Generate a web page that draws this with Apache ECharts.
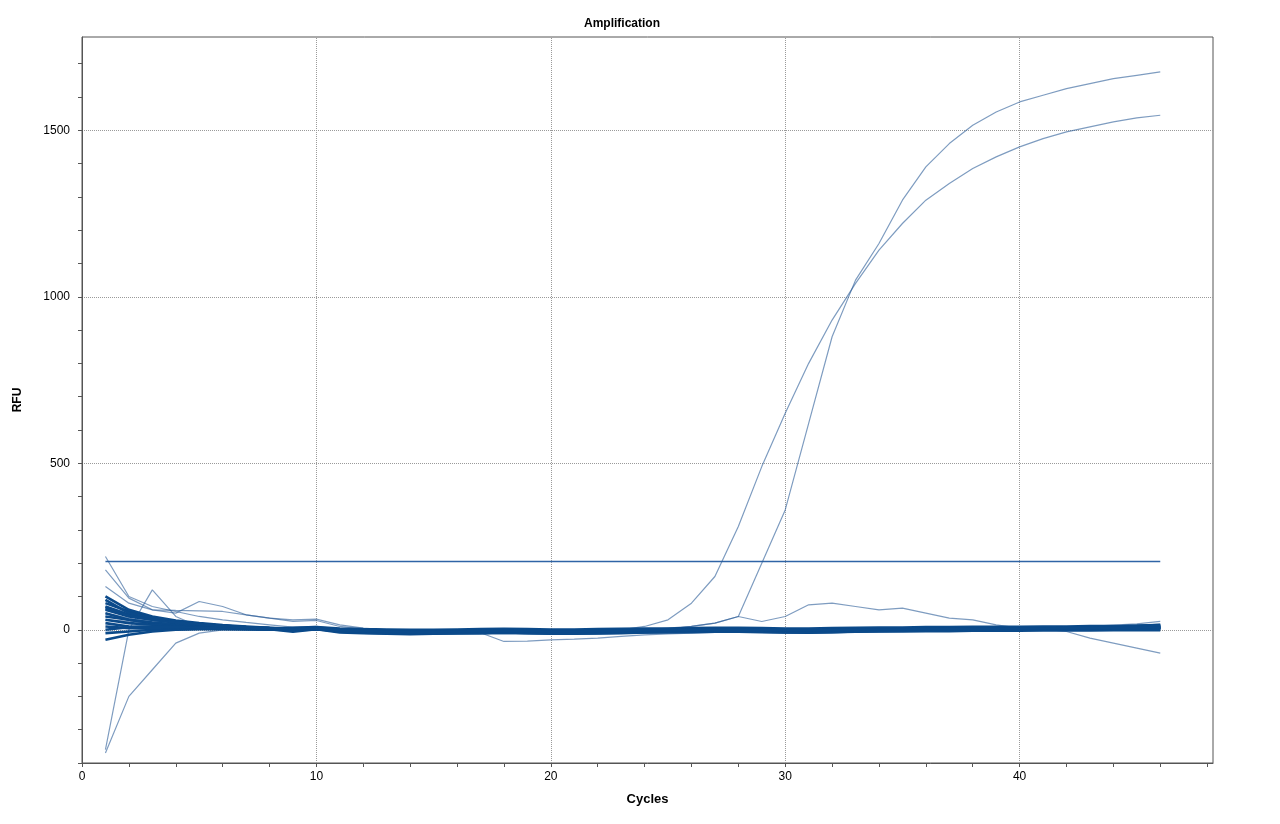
<!DOCTYPE html>
<html><head><meta charset="utf-8">
<script src="https://cdn.jsdelivr.net/npm/echarts@6/dist/echarts.min.js"></script>
<style>html,body{margin:0;background:#fff}#c{width:1280px;height:824px}</style>
</head><body><div id="c"></div>
<script>
var cycles = [1,2,3,4,5,6,7,8,9,10,11,12,13,14,15,16,17,18,19,20,21,22,23,24,25,26,27,28,29,30,31,32,33,34,35,36,37,38,39,40,41,42,43,44,45,46];
var threshold = 205;
var ampEarly = [70,50,35,25,18,12,8,5,2,3,0,-3,-5,-6,-5,-4,-3,-2,-3,-4,-5,-3,0,10,30,80,160,310,490,650,800,930,1040,1140,1220,1290,1340,1385,1420,1450,1475,1495,1510,1525,1537,1545];
var ampLate = [50,35,25,18,12,8,5,3,1,0,-2,-4,-5,-6,-6,-5,-4,-3,-4,-5,-5,-4,-3,-2,2,10,20,40,200,360,620,880,1050,1160,1290,1390,1460,1515,1555,1585,1605,1625,1640,1655,1665,1675];
var bump = [40,30,22,16,12,8,6,4,2,3,0,-2,-3,-4,-5,-4,-3,-2,-3,-4,-4,-3,-2,0,5,10,20,40,25,40,75,80,70,60,65,50,35,30,15,5,6,7,8,9,10,12];
var droop = [30,25,18,14,10,7,5,3,1,2,0,-2,-3,-4,-4,-3,-3,-2,-3,-3,-4,-3,-2,-1,0,1,2,3,2,1,0,-1,0,1,2,2,3,3,3,4,2,-5,-25,-40,-55,-70];
var lowA = [-370,-200,-120,-40,-10,0,2,3,2,4,1,-2,-3,-4,-5,-6,-8,-10,-9,-8,-7,-6,-5,-4,-3,-3,-2,-2,-2,-1,-1,0,0,1,1,2,2,3,3,4,4,5,5,6,6,6];
var lowB = [-360,0,120,40,10,5,3,2,0,1,-2,-4,-5,-6,-7,-8,-9,-35,-34,-30,-28,-25,-20,-15,-12,-10,-8,-6,-5,-4,-3,-2,-1,0,0,1,1,2,2,3,3,4,4,5,5,5];
var highA = [220,100,70,55,40,30,22,15,8,10,2,-3,-5,-6,-6,-5,-4,-3,-4,-5,-5,-4,-3,-2,-2,-1,0,1,0,-1,-2,-1,0,1,2,2,3,3,4,4,5,5,6,7,8,9];
var highB = [180,95,60,50,85,70,45,35,30,32,15,5,0,-2,-3,-3,-2,-1,-2,-3,-3,-2,-1,-1,0,0,1,1,0,-1,-1,0,1,1,2,2,3,3,4,4,5,6,6,7,8,9];
var highC = [130,80,60,58,57,55,45,35,25,28,10,2,-2,-4,-4,-3,-3,-2,-3,-4,-4,-3,-2,-1,0,0,1,1,0,-1,-1,0,1,1,2,2,3,3,4,5,6,8,10,14,18,25];
var base = [
  [60,40,30,22,15,10,6,4,2,5,-2,-3,-4,-5,-5,-4,-3,-2,-3,-4,-5,-4,-3,-2,-2,-1,0,1,0,-1,-2,-1,0,1,2,2,3,3,4,4,5,5,6,6,7,8],
  [80,55,35,25,18,12,8,5,3,6,-1,-4,-6,-7,-6,-5,-4,-5,-6,-7,-6,-5,-4,-3,-3,-2,-1,0,-1,-2,-3,-2,-1,0,1,1,2,2,3,3,4,4,5,5,6,7],
  [40,30,20,15,10,8,5,3,1,3,-2,-4,-5,-6,-5,-5,-4,-3,-4,-5,-6,-5,-3,-2,-1,0,1,2,1,0,-1,0,1,2,3,3,4,4,5,5,6,7,8,10,12,15],
  [20,10,8,6,5,4,3,2,-6,2,-8,-10,-12,-13,-12,-11,-10,-9,-10,-12,-12,-11,-10,-8,-7,-6,-5,-4,-6,-8,-9,-7,-5,-4,-3,-2,-1,0,0,1,1,1,2,2,2,3],
  [-10,-5,0,2,3,3,2,1,-1,1,-3,-5,-6,-7,-7,-6,-6,-5,-6,-7,-7,-6,-5,-4,-3,-3,-2,-1,-2,-3,-4,-3,-2,-1,0,0,1,1,2,2,3,3,4,4,5,5],
  [-30,-15,-5,0,2,2,2,1,0,2,-2,-4,-5,-6,-6,-6,-5,-4,-5,-6,-6,-5,-4,-3,-3,-2,-1,0,-1,-2,-3,-2,-1,0,1,1,2,2,3,3,4,4,4,5,5,6],
  [100,60,40,28,20,14,10,6,3,6,0,-3,-5,-6,-6,-5,-4,-3,-4,-5,-5,-4,-3,-2,-1,-1,0,1,0,-1,-2,-1,0,1,2,3,3,4,4,5,6,7,8,10,12,14],
  [50,30,22,16,12,9,6,4,6,8,4,2,1,0,0,1,2,3,2,1,1,2,3,4,4,5,6,6,5,4,4,5,6,7,7,8,8,9,9,9,10,10,11,11,11,12],
  [70,45,32,24,18,12,8,5,2,4,-2,-4,-6,-7,-7,-6,-5,-4,-5,-6,-6,-5,-4,-3,-2,-2,-1,0,-1,-2,-3,-2,-1,0,1,1,2,2,3,3,4,5,5,6,7,8],
  [10,5,4,4,3,3,2,1,0,2,-2,-4,-5,-6,-6,-5,-4,-4,-5,-5,-5,-4,-3,-2,-2,-1,0,0,-1,-2,-2,-1,0,0,1,1,2,2,2,3,3,3,3,4,4,4],
  [90,50,35,25,17,12,8,5,2,5,-1,-3,-4,-5,-5,-4,-3,-3,-4,-4,-4,-3,-2,-1,-1,0,1,1,0,-1,-1,0,1,1,2,2,3,3,3,4,4,5,6,7,9,11],
  [30,20,15,11,8,6,4,2,0,3,-6,-9,-10,-11,-11,-10,-10,-9,-10,-11,-11,-10,-9,-8,-7,-7,-6,-6,-7,-8,-8,-7,-6,-5,-5,-4,-4,-3,-3,-3,-2,-2,-2,-1,-1,-1],
  [0,8,10,8,6,5,4,2,0,2,-3,-5,-6,-7,-6,-6,-5,-4,-5,-6,-6,-5,-4,-3,-3,-2,-1,0,-1,-2,-2,-1,0,0,1,1,2,2,3,3,3,4,4,5,5,5],
  [65,42,30,22,16,11,7,4,1,4,-2,-4,-5,-6,-6,-5,-4,-3,-4,-5,-5,-4,-3,-2,-2,-1,0,1,0,-1,-2,-1,0,1,1,2,2,3,3,4,4,5,5,6,6,7]
];
var yLabels = [0, 500, 1000, 1500];
var xLabels = [0, 10, 20, 30, 40];

function pairs(vals) { return cycles.map(function (c, i) { return [c, vals[i]]; }); }
var dotted = { type: 'dotted', color: '#9a9a9a', width: 1 };

var series = [{
  type: 'line', data: [[1, threshold], [46, threshold]], symbol: 'none', silent: true, z: 1,
  lineStyle: { color: '#2f64a6', width: 1.5 },
  markLine: {
    silent: true, symbol: 'none', label: { show: false }, lineStyle: dotted, z: 0,
    data: yLabels.map(function (y) { return { yAxis: y }; }).concat(xLabels.slice(1).map(function (x) { return { xAxis: x }; }))
  }
}];
var lineCol = 'rgba(40,90,150,0.6)';
[ampEarly, ampLate, bump, droop, lowA, lowB, highA, highB, highC].forEach(function (v) {
  series.push({ type: 'line', data: pairs(v), symbol: 'none', silent: true, z: 3, lineStyle: { color: lineCol, width: 1.2 } });
});
base.forEach(function (v) {
  series.push({ type: 'line', data: pairs(v), symbol: 'none', silent: true, z: 3, lineStyle: { color: '#0b4a8a', width: 2.6 } });
});

var chart = echarts.init(document.getElementById('c'));
chart.setOption({
  animation: false,
  title: { text: 'Amplification', left: 617, top: 13, textAlign: 'center', textStyle: { fontSize: 12, fontWeight: 'bold', fontFamily: 'Liberation Sans', color: '#000' } },
  grid: { left: 82, right: 67, top: 37, bottom: 61, show: true, borderColor: '#555', borderWidth: 1 },
  xAxis: {
    type: 'value', min: 0, max: 48.25, interval: 2,
    name: 'Cycles', nameLocation: 'middle', nameGap: 30,
    nameTextStyle: { fontSize: 13, fontWeight: 'bold', fontFamily: 'Liberation Sans', color: '#000' },
    axisLine: { onZero: false, lineStyle: { color: '#555' } },
    axisTick: { lineStyle: { color: '#555' }, length: 4 },
    splitLine: { show: false },
    axisLabel: { fontSize: 12, fontFamily: 'Liberation Sans', color: '#000', showMaxLabel: false,
      formatter: function (v) { return v % 10 === 0 ? String(v) : ''; } }
  },
  yAxis: {
    type: 'value', min: -400, max: 1780, interval: 100,
    name: 'RFU', nameLocation: 'middle', nameGap: 58,
    nameTextStyle: { fontSize: 12, fontWeight: 'bold', fontFamily: 'Liberation Sans', color: '#000' },
    axisLine: { show: true, onZero: false, lineStyle: { color: '#555' } },
    axisTick: { show: true, lineStyle: { color: '#555' }, length: 4 },
    splitLine: { show: false },
    axisLabel: { fontSize: 12, fontFamily: 'Liberation Sans', color: '#000', showMaxLabel: false, margin: 12,
      formatter: function (v) { return (v >= 0 && v % 500 === 0) ? String(v) : ''; } }
  },
  series: series
});
</script></body></html>
